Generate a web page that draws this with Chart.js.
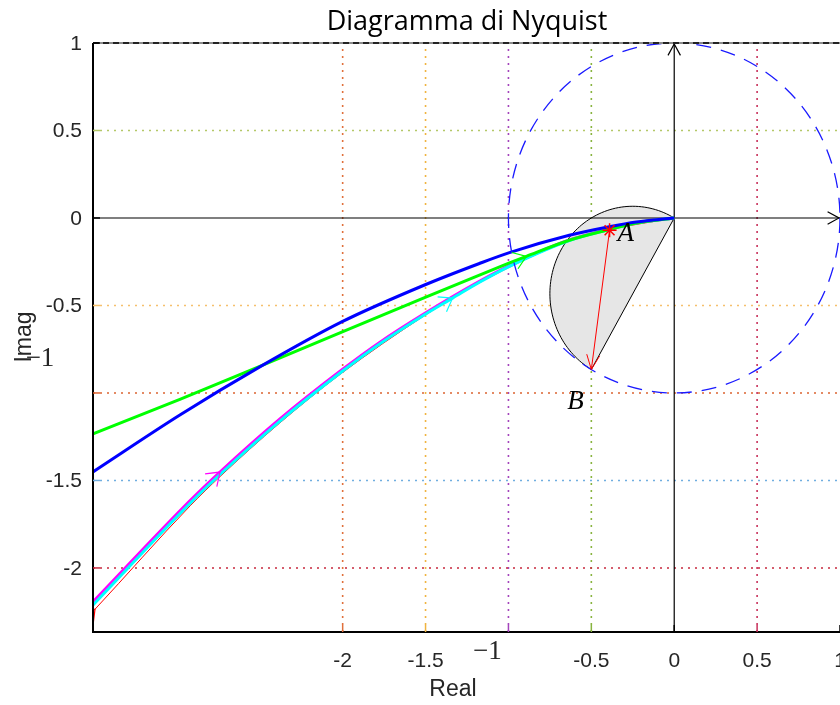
<!DOCTYPE html>
<html>
<head>
<meta charset="utf-8">
<title>Diagramma di Nyquist</title>
<script src="https://cdn.jsdelivr.net/npm/chart.js@4.4.0/dist/chart.umd.min.js"></script>
<style>
  html, body { margin: 0; padding: 0; background: #fff; }
  canvas { display: block; }
</style>
</head>
<body>
<canvas id="nyquist" width="840" height="705"></canvas>
<script>
// curve samples (real, imaginary)
const bluRe = [-3.506, -2.982, -2.5, -2.006, -1.506, -1.175, -0.994, -0.633, -0.392, -0.229, 0];
const bluIm = [-1.451, -1.126, -0.851, -0.594, -0.383, -0.26, -0.198, -0.099, -0.05, -0.023, 0];

const grnRe = [-3.506, -2.982, -2.5, -2.006, -1.506, -1.175, -0.994, -0.892, -0.633, -0.392, -0.229, 0];
const grnIm = [-1.234, -1.036, -0.848, -0.652, -0.455, -0.326, -0.257, -0.219, -0.127, -0.066, -0.029, 0];

const magRe = [-3.506, -2.92, -2.74, -2.38, -2.006, -1.777, -1.506, -1.175, -0.994, -0.633, -0.392, -0.229, 0];
const magIm = [-2.194, -1.615, -1.452, -1.15, -0.869, -0.711, -0.546, -0.362, -0.272, -0.126, -0.064, -0.028, 0];

const cyaRe = [-3.506, -2.92, -2.74, -2.38, -2.006, -1.777, -1.506, -1.337, -1.175, -0.994, -0.633, -0.392, -0.229, 0];
const cyaIm = [-2.212, -1.63, -1.466, -1.162, -0.879, -0.72, -0.553, -0.458, -0.367, -0.276, -0.129, -0.066, -0.029, 0];

const redRe = [-3.506, -3.494, -2.92, -2.74, -2.38, -2.006, -1.506, -1.175, -0.633, -0.392, 0];
const redIm = [-2.248, -2.236, -1.645, -1.478, -1.172, -0.887, -0.558, -0.37, -0.13, -0.067, 0];

// direction arrows: index of the sample where each arrow sits
const magArrow = 2;
const cyaArrow = 7;
const grnArrow = 7;
const redArrow = 1;

// points A and B
const ptA = { x: -0.39, y: -0.07 };
const ptB = { x: -0.5, y: -0.866 };

const xTicks = [-2, -1.5, -1, -0.5, 0, 0.5, 1];
const yTicks = [1, 0.5, 0, -0.5, -1, -1.5, -2];

const xGridCol = { '-2': '#e0703c', '-1.5': '#f0b440', '-1': '#a444bc', '-0.5': '#88b440', '0.5': '#c8325c' };
const yGridCol = { '0.5': '#b4c868', '-0.5': '#f5c06c', '-1': '#dc6432', '-1.5': '#70aee0', '-2': '#c8283e' };

const pts = (re, im) => re.map((v, i) => ({ x: v, y: im[i] }));

function head(ctx, x, y, ang, len, spread) {
  ctx.beginPath();
  ctx.moveTo(x - len * Math.cos(ang - spread), y - len * Math.sin(ang - spread));
  ctx.lineTo(x, y);
  ctx.lineTo(x - len * Math.cos(ang + spread), y - len * Math.sin(ang + spread));
  ctx.stroke();
}

function curveArrow(chart, re, im, i, color) {
  const sx = chart.scales.x, sy = chart.scales.y, ctx = chart.ctx;
  const a = Math.max(i - 1, 0), b = Math.min(i + 1, re.length - 1);
  const ang = Math.atan2(sy.getPixelForValue(im[b]) - sy.getPixelForValue(im[a]),
                         sx.getPixelForValue(re[b]) - sx.getPixelForValue(re[a]));
  ctx.strokeStyle = color;
  ctx.lineWidth = 1.2;
  head(ctx, sx.getPixelForValue(re[i]), sy.getPixelForValue(im[i]), ang, 15, 0.62);
}

const decor = {
  id: 'decor',
  beforeDatasetsDraw(chart) {
    const { ctx, chartArea: ca } = chart;
    const sx = chart.scales.x, sy = chart.scales.y;
    ctx.save();

    // dotted grid
    ctx.lineWidth = 1.6;
    ctx.setLineDash([2, 5]);
    xTicks.forEach(t => {
      const c = xGridCol[String(t)];
      if (!c) return;
      const x = sx.getPixelForValue(t);
      ctx.strokeStyle = c;
      ctx.beginPath(); ctx.moveTo(x, ca.bottom); ctx.lineTo(x, ca.top); ctx.stroke();
    });
    yTicks.forEach(t => {
      const c = yGridCol[String(t)];
      if (!c) return;
      const y = sy.getPixelForValue(t);
      ctx.strokeStyle = c;
      ctx.beginPath(); ctx.moveTo(ca.left, y); ctx.lineTo(ca.right, y); ctx.stroke();
    });
    ctx.setLineDash([]);

    // half disc on the chord 0 -> B
    const cx = ptB.x / 2, cy = ptB.y / 2, r = Math.hypot(cx, cy);
    const a0 = Math.atan2(-cy, -cx);
    ctx.beginPath();
    for (let k = 0; k <= 90; k++) {
      const t = a0 + Math.PI * k / 90;
      const x = sx.getPixelForValue(cx + r * Math.cos(t));
      const y = sy.getPixelForValue(cy + r * Math.sin(t));
      if (k === 0) ctx.moveTo(x, y); else ctx.lineTo(x, y);
    }
    ctx.closePath();
    ctx.fillStyle = '#e6e6e6';
    ctx.fill();
    ctx.strokeStyle = '#000';
    ctx.lineWidth = 1;
    ctx.stroke();

    // real and imaginary axes
    const ox = sx.getPixelForValue(0), oy = sy.getPixelForValue(0);
    ctx.strokeStyle = '#000';
    ctx.lineWidth = 1.2;
    ctx.beginPath(); ctx.moveTo(ca.left, oy); ctx.lineTo(ca.right, oy); ctx.stroke();
    ctx.beginPath(); ctx.moveTo(ox, ca.bottom); ctx.lineTo(ox, ca.top); ctx.stroke();
    head(ctx, ca.right - 1, oy, 0, 13, 0.5);
    head(ctx, ox, ca.top + 1, -Math.PI / 2, 13, 0.5);
    ctx.restore();
  },
  afterDatasetsDraw(chart) {
    const { ctx, chartArea: ca } = chart;
    const sx = chart.scales.x, sy = chart.scales.y;
    ctx.save();
    ctx.beginPath();
    ctx.rect(ca.left, ca.top - 1, ca.right - ca.left, ca.bottom - ca.top + 2);
    ctx.clip();

    // unit circle
    const ox = sx.getPixelForValue(0), oy = sy.getPixelForValue(0);
    ctx.strokeStyle = '#1a1aff';
    ctx.lineWidth = 1.3;
    ctx.setLineDash([15, 10]);
    ctx.beginPath();
    ctx.ellipse(ox, oy, sx.getPixelForValue(1) - ox, oy - sy.getPixelForValue(1), 0, 0, Math.PI * 2);
    ctx.stroke();
    ctx.setLineDash([]);

    curveArrow(chart, magRe, magIm, magArrow, '#ff00ff');
    curveArrow(chart, cyaRe, cyaIm, cyaArrow, '#00ffff');
    curveArrow(chart, grnRe, grnIm, grnArrow, '#00ff00');
    curveArrow(chart, redRe, redIm, redArrow, '#ff0000');

    // arrow tip at B
    const bx = sx.getPixelForValue(ptB.x), by = sy.getPixelForValue(ptB.y);
    const ang = Math.atan2(by - sy.getPixelForValue(ptA.y), bx - sx.getPixelForValue(ptA.x));
    ctx.strokeStyle = '#ff0000';
    ctx.lineWidth = 1;
    head(ctx, bx, by, ang, 16, 0.42);
    ctx.restore();

    // axes box
    ctx.save();
    ctx.lineWidth = 2;
    ctx.strokeStyle = '#000';
    ctx.beginPath();
    ctx.moveTo(ca.left, ca.top); ctx.lineTo(ca.left, ca.bottom); ctx.lineTo(ca.right, ca.bottom);
    ctx.stroke();
    ctx.strokeStyle = '#8c8c8c';
    ctx.beginPath(); ctx.moveTo(ca.left, ca.top); ctx.lineTo(ca.right, ca.top); ctx.stroke();
    ctx.strokeStyle = '#000';
    ctx.lineWidth = 1.5;
    ctx.setLineDash([6, 4]);
    ctx.beginPath(); ctx.moveTo(ca.left, ca.top); ctx.lineTo(ca.right, ca.top); ctx.stroke();
    ctx.setLineDash([]);

    // tick marks
    ctx.lineWidth = 1.5;
    xTicks.forEach(t => {
      const x = sx.getPixelForValue(t);
      ctx.strokeStyle = xGridCol[String(t)] || '#000';
      ctx.beginPath(); ctx.moveTo(x, ca.bottom); ctx.lineTo(x, ca.bottom - 7); ctx.stroke();
    });
    yTicks.forEach(t => {
      const y = sy.getPixelForValue(t);
      ctx.strokeStyle = yGridCol[String(t)] || '#000';
      ctx.beginPath(); ctx.moveTo(ca.left, y); ctx.lineTo(ca.left + 7, y); ctx.stroke();
    });
    ctx.restore();
  },
  afterDraw(chart) {
    const { ctx, chartArea: ca } = chart;
    const sx = chart.scales.x, sy = chart.scales.y;
    ctx.save();
    ctx.fillStyle = '#262626';
    ctx.font = '21px "Liberation Sans", Arial, sans-serif';
    ctx.textBaseline = 'middle';

    ctx.textAlign = 'center';
    xTicks.forEach(t => {
      if (t === -1) return;
      ctx.fillText(String(t), sx.getPixelForValue(t), ca.bottom + 29);
    });
    ctx.textAlign = 'right';
    yTicks.forEach(t => {
      if (t === -1) return;
      ctx.fillText(String(t), ca.left - 11, sy.getPixelForValue(t) + 1);
    });

    // the -1 labels are typeset in serif
    ctx.font = '27px "Liberation Serif", "DejaVu Serif", serif';
    ctx.fillStyle = '#262626';
    ctx.textAlign = 'center';
    ctx.fillText('\u22121', sx.getPixelForValue(-1) - 21, ca.bottom + 20);
    ctx.fillText('\u22121', ca.left - 53, sy.getPixelForValue(-1) - 34);

    // axis titles
    ctx.font = '23px "Liberation Sans", Arial, sans-serif';
    ctx.fillText('Real', 453, 690);
    ctx.save();
    ctx.translate(25, 337);
    ctx.rotate(-Math.PI / 2);
    ctx.fillText('Imag', 0, 0);
    ctx.restore();

    // title
    ctx.fillStyle = '#000';
    ctx.font = '27px "Open Sans", sans-serif';
    ctx.fillText('Diagramma di Nyquist', 467, 22);

    // point names
    ctx.font = 'italic 27px "Liberation Serif", serif';
    ctx.textAlign = 'left';
    ctx.fillText('A', sx.getPixelForValue(ptA.x) + 8, sy.getPixelForValue(ptA.y) + 4);
    ctx.fillText('B', sx.getPixelForValue(ptB.x) - 24, sy.getPixelForValue(ptB.y) + 32);
    ctx.restore();
  }
};

const line = (re, im, color, w, order) => ({
  data: pts(re, im),
  borderColor: color,
  borderWidth: w,
  pointRadius: 0,
  showLine: true,
  fill: false,
  cubicInterpolationMode: 'monotone',
  order: order
});

const ctx = document.getElementById('nyquist');
const myChart = new Chart(ctx, {
  type: 'scatter',
  data: {
    datasets: [
      {
        data: [ptA],
        pointStyle: 'star',
        pointRadius: 7,
        borderColor: '#ff0000',
        borderWidth: 1.5,
        order: 0
      },
      {
        data: [ptA, ptB],
        showLine: true,
        borderColor: '#ff0000',
        borderWidth: 1,
        pointRadius: 0,
        order: 1
      },
      line(bluRe, bluIm, '#0000ff', 3, 2),
      line(grnRe, grnIm, '#00ff00', 3, 3),
      line(cyaRe, cyaIm, '#00ffff', 3, 4),
      line(magRe, magIm, '#ff00ff', 3, 5),
      line(redRe, redIm, '#ff0000', 1, 6)
    ]
  },
  options: {
    responsive: false,
    animation: false,
    layout: { autoPadding: false, padding: { top: 43, left: 0, right: 0, bottom: 0 } },
    plugins: { legend: { display: false }, tooltip: { enabled: false } },
    scales: {
      x: {
        type: 'linear', min: -3.506, max: 1,
        afterBuildTicks: s => { s.ticks = xTicks.map(v => ({ value: v })); },
        afterFit: s => { s.height = 73; },
        grid: { display: false },
        border: { display: false },
        ticks: { display: false }
      },
      y: {
        type: 'linear', min: -2.366, max: 1,
        afterBuildTicks: s => { s.ticks = yTicks.map(v => ({ value: v })); },
        afterFit: s => { s.width = 93; },
        grid: { display: false },
        border: { display: false },
        ticks: { display: false }
      }
    }
  },
  plugins: [decor]
});
</script>
</body>
</html>
